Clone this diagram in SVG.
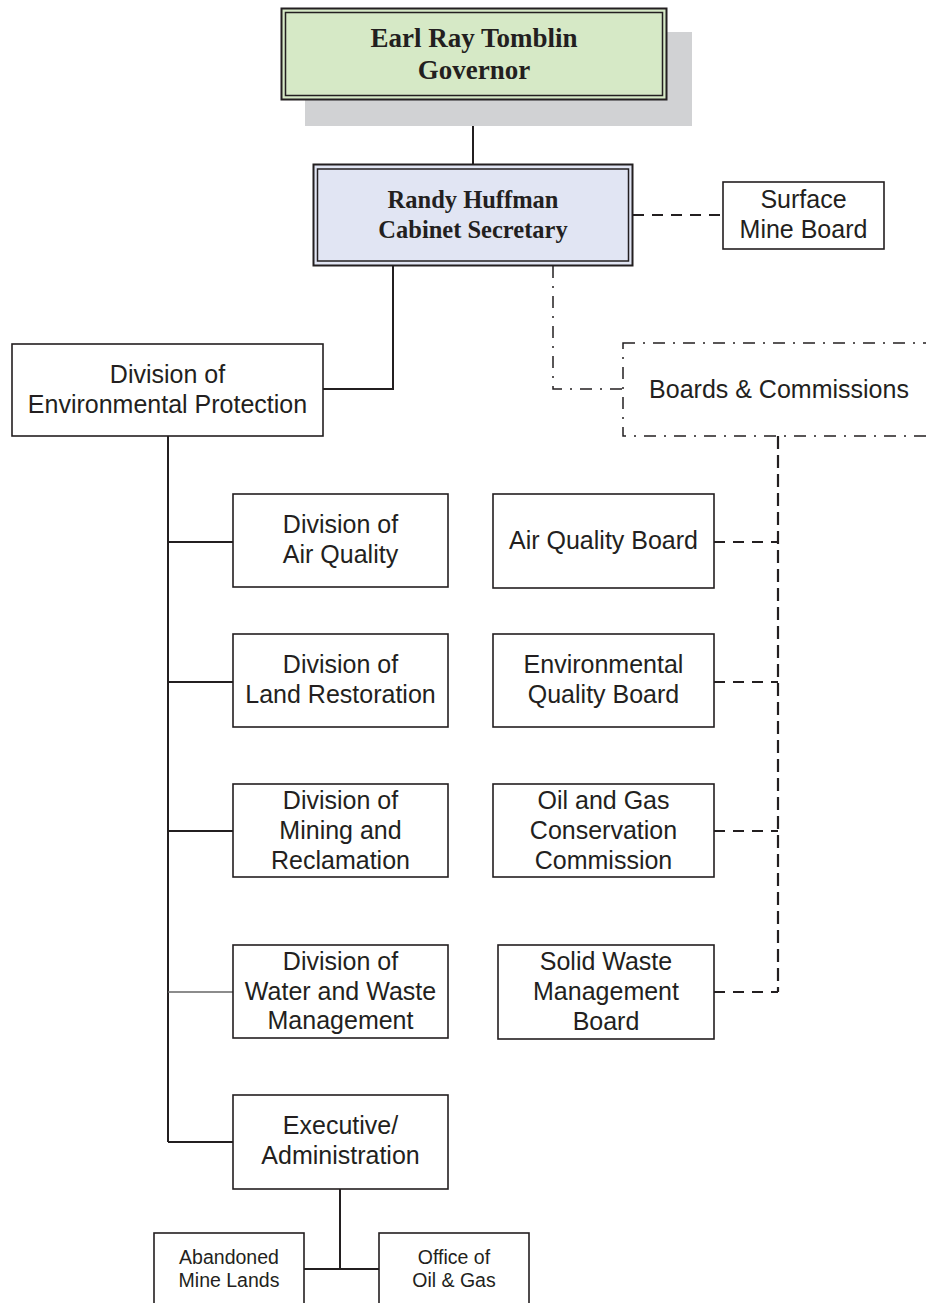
<svg xmlns="http://www.w3.org/2000/svg" width="926" height="1303" viewBox="0 0 926 1303">
<style>
.box{fill:#fff;stroke:#231f20;stroke-width:1.6}
.t{font-family:"Liberation Sans",Arial,sans-serif;font-size:25px;fill:#231f20;text-anchor:middle}
.ts{font-family:"Liberation Sans",Arial,sans-serif;font-size:19.5px;fill:#231f20;text-anchor:middle}
.tb{font-family:"Liberation Serif","Times New Roman",serif;font-weight:bold;fill:#231f20;text-anchor:middle}
.ln{fill:none;stroke:#231f20;stroke-width:2}
.dash{fill:none;stroke:#231f20;stroke-width:1.8;stroke-dasharray:11 8}
.vdash{fill:none;stroke:#231f20;stroke-width:2.2;stroke-dasharray:13 6}
.dd{fill:none;stroke:#231f20;stroke-width:1.5;stroke-dasharray:12 8 2 8}
</style>
<rect width="926" height="1303" fill="#fff"/>
<g id="connectors">
<line class="ln" x1="473" y1="100" x2="473" y2="164"/>
<line class="dash" x1="633" y1="215" x2="723" y2="215"/>
<polyline class="dd" points="553,266 553,389 623,389"/>
<polyline class="ln" points="393,266 393,389 323,389"/>
<line class="ln" x1="168" y1="436" x2="168" y2="1142"/>
<line class="ln" x1="168" y1="542" x2="233" y2="542"/>
<line class="ln" x1="168" y1="682" x2="233" y2="682"/>
<line class="ln" x1="168" y1="831" x2="233" y2="831"/>
<line x1="168" y1="992" x2="233" y2="992" stroke="#666" stroke-width="1.3"/>
<line class="ln" x1="168" y1="1142" x2="233" y2="1142"/>
<line class="vdash" x1="778" y1="436" x2="778" y2="992"/>
<line class="dash" x1="714" y1="542" x2="778" y2="542"/>
<line class="dash" x1="714" y1="682" x2="778" y2="682"/>
<line class="dash" x1="714" y1="831" x2="778" y2="831"/>
<line class="dash" x1="714" y1="992" x2="778" y2="992"/>
<line class="ln" x1="340" y1="1189" x2="340" y2="1269"/>
<line class="ln" x1="304" y1="1269" x2="379" y2="1269"/>
</g>
<g id="governor">
<rect x="305" y="32" width="387" height="94" fill="#d1d2d4"/>
<rect x="281.5" y="8.5" width="385" height="91" fill="#d6e9c6" stroke="#231f20" stroke-width="2"/>
<rect x="285.5" y="12.5" width="377" height="83" fill="none" stroke="#231f20" stroke-width="1.5"/>
<text class="tb" x="474" y="47" font-size="27">Earl Ray Tomblin</text>
<text class="tb" x="474" y="79" font-size="27">Governor</text>
</g>
<g id="secretary">
<rect x="313.5" y="164.5" width="319" height="101" fill="#e1e5f3" stroke="#231f20" stroke-width="2"/>
<rect x="317.5" y="169" width="311" height="92" fill="none" stroke="#231f20" stroke-width="1.5"/>
<text class="tb" x="473" y="208" font-size="24.5">Randy Huffman</text>
<text class="tb" x="473" y="238" font-size="24.5">Cabinet Secretary</text>
</g>
<g id="surface-mine-board">
<rect class="box" x="723" y="182" width="161" height="67"/>
<text class="t" x="803.5" y="208">Surface</text>
<text class="t" x="803.5" y="238">Mine Board</text>
</g>
<g id="boards-commissions">
<rect x="623" y="343" width="330" height="93" fill="none" stroke="#231f20" stroke-width="1.5" stroke-dasharray="12 8 2 8"/>
<text class="t" x="779" y="398">Boards &amp; Commissions</text>
</g>
<g id="dep">
<rect class="box" x="12" y="344" width="311" height="92"/>
<text class="t" x="167.5" y="383">Division of</text>
<text class="t" x="167.5" y="413">Environmental Protection</text>
</g>
<g id="div-air">
<rect class="box" x="233" y="494" width="215" height="93"/>
<text class="t" x="340.5" y="533">Division of</text>
<text class="t" x="340.5" y="563">Air Quality</text>
</g>
<g id="div-land">
<rect class="box" x="233" y="634" width="215" height="93"/>
<text class="t" x="340.5" y="673">Division of</text>
<text class="t" x="340.5" y="703">Land Restoration</text>
</g>
<g id="div-mining">
<rect class="box" x="233" y="784" width="215" height="93"/>
<text class="t" x="340.5" y="809">Division of</text>
<text class="t" x="340.5" y="839">Mining and</text>
<text class="t" x="340.5" y="869">Reclamation</text>
</g>
<g id="div-water">
<rect class="box" x="233" y="945" width="215" height="93"/>
<text class="t" x="340.5" y="970">Division of</text>
<text class="t" x="340.5" y="1000">Water and Waste</text>
<text class="t" x="340.5" y="1029">Management</text>
</g>
<g id="exec-admin">
<rect class="box" x="233" y="1095" width="215" height="94"/>
<text class="t" x="340.5" y="1134">Executive/</text>
<text class="t" x="340.5" y="1164">Administration</text>
</g>
<g id="air-quality-board">
<rect class="box" x="493" y="494" width="221" height="94"/>
<text class="t" x="603.5" y="549">Air Quality Board</text>
</g>
<g id="env-quality-board">
<rect class="box" x="493" y="634" width="221" height="93"/>
<text class="t" x="603.5" y="673">Environmental</text>
<text class="t" x="603.5" y="703">Quality Board</text>
</g>
<g id="oil-gas-commission">
<rect class="box" x="493" y="784" width="221" height="93"/>
<text class="t" x="603.5" y="809">Oil and Gas</text>
<text class="t" x="603.5" y="839">Conservation</text>
<text class="t" x="603.5" y="869">Commission</text>
</g>
<g id="solid-waste-board">
<rect class="box" x="498" y="945" width="216" height="94"/>
<text class="t" x="606" y="970">Solid Waste</text>
<text class="t" x="606" y="1000">Management</text>
<text class="t" x="606" y="1030">Board</text>
</g>
<g id="abandoned-mine-lands">
<rect class="box" x="154" y="1233" width="150" height="80"/>
<text class="ts" x="229" y="1264">Abandoned</text>
<text class="ts" x="229" y="1287">Mine Lands</text>
</g>
<g id="office-oil-gas">
<rect class="box" x="379" y="1233" width="150" height="80"/>
<text class="ts" x="454" y="1264">Office of</text>
<text class="ts" x="454" y="1287">Oil &amp; Gas</text>
</g>
</svg>
